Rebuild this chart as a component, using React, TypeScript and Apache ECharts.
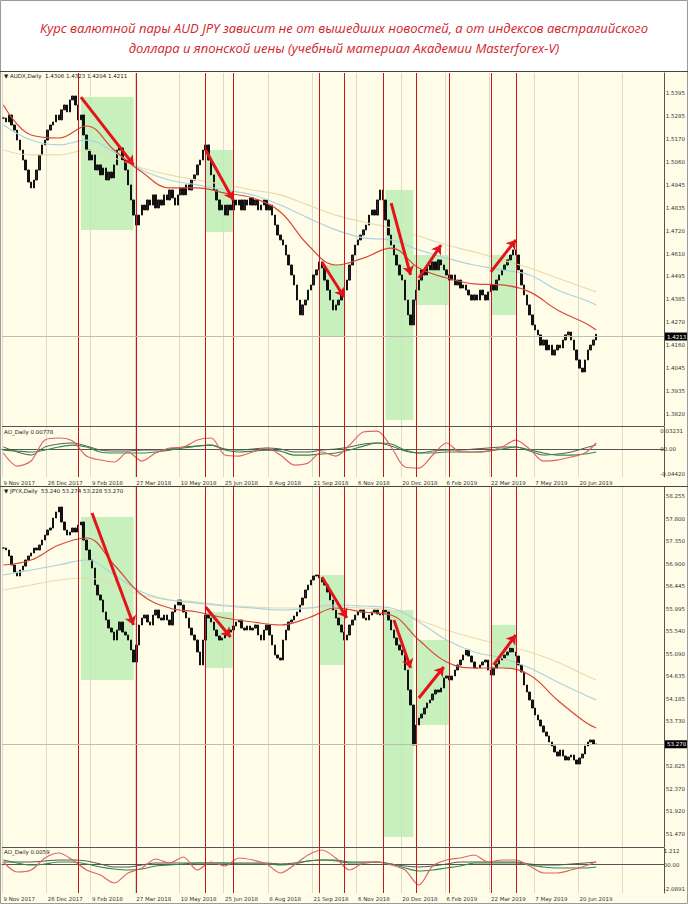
import { useEffect, useRef } from 'react';
import * as echarts from 'echarts';

const TITLE_LINES = [
  'Курс валютной пары AUD JPY зависит не от вышедших новостей, а от индексов австралийского',
  'доллара и японской иены (учебный материал Академии Masterforex-V)',
];
const DATE_LABELS = ['9 Nov 2017', '26 Dec 2017', '9 Feb 2018', '27 Mar 2018', '10 May 2018', '25 Jun 2018', '8 Aug 2018', '21 Sep 2018', '6 Nov 2018', '20 Dec 2018', '6 Feb 2019', '22 Mar 2019', '7 May 2019', '20 Jun 2019'];
const SLOT_COUNT = 239;
const LABEL_EVERY = 16;

// ---------- AUDX daily (closes, one per 2 trading days) ----------
const AUD_CLOSE = [
  1.5272, 1.5253, 1.5287, 1.5238, 1.5213, 1.5164, 1.5115, 1.5066, 1.5017, 1.4958,
  1.4929, 1.4968, 1.5017, 1.5091, 1.5140, 1.5164, 1.5213, 1.5238, 1.5253, 1.5287,
  1.5263, 1.5312, 1.5336, 1.5302, 1.5361, 1.5380, 1.5336, 1.5263, 1.5287, 1.5189,
  1.5115, 1.5066, 1.5091, 1.5017, 1.5042, 1.4993, 1.5027, 1.4968, 1.5007, 1.4978,
  1.5042, 1.5115, 1.5125, 1.5066, 1.5017, 1.4944, 1.4870, 1.4796, 1.4747, 1.4796,
  1.4845, 1.4821, 1.4870, 1.4845, 1.4895, 1.4831, 1.4870, 1.4845, 1.4895, 1.4870,
  1.4919, 1.4880, 1.4845, 1.4895, 1.4929, 1.4895, 1.4944, 1.4919, 1.4968, 1.4993,
  1.5042, 1.5066, 1.5115, 1.5140, 1.5066, 1.4993, 1.4919, 1.4870, 1.4821, 1.4845,
  1.4796, 1.4845, 1.4821, 1.4870, 1.4845, 1.4870, 1.4821, 1.4870, 1.4845, 1.4880,
  1.4845, 1.4870, 1.4821, 1.4845, 1.4870, 1.4821, 1.4845, 1.4796, 1.4747, 1.4698,
  1.4674, 1.4649, 1.4600, 1.4551, 1.4502, 1.4453, 1.4379, 1.4306, 1.4355, 1.4379,
  1.4428, 1.4453, 1.4502, 1.4527, 1.4566, 1.4536, 1.4477, 1.4428, 1.4379, 1.4330,
  1.4355, 1.4379, 1.4404, 1.4428, 1.4477, 1.4551, 1.4600, 1.4649, 1.4674, 1.4698,
  1.4723, 1.4747, 1.4796, 1.4821, 1.4796, 1.4870, 1.4919, 1.4870, 1.4772, 1.4698,
  1.4649, 1.4600, 1.4551, 1.4502, 1.4477, 1.4379, 1.4306, 1.4257, 1.4379, 1.4428,
  1.4477, 1.4527, 1.4502, 1.4551, 1.4527, 1.4566, 1.4527, 1.4576, 1.4551, 1.4527,
  1.4502, 1.4477, 1.4502, 1.4453, 1.4477, 1.4438, 1.4453, 1.4428, 1.4404, 1.4379,
  1.4404, 1.4379, 1.4428, 1.4404, 1.4379, 1.4419, 1.4453, 1.4428, 1.4477, 1.4502,
  1.4527, 1.4551, 1.4576, 1.4600, 1.4625, 1.4600, 1.4527, 1.4453, 1.4404, 1.4355,
  1.4306, 1.4257, 1.4232, 1.4208, 1.4158, 1.4183, 1.4134, 1.4158, 1.4109, 1.4134,
  1.4158, 1.4144, 1.4183, 1.4208, 1.4222, 1.4183, 1.4134, 1.4085, 1.4045, 1.4026,
  1.4085, 1.4134, 1.4158, 1.4183, 1.4211,
];
const AUD_LAST = 1.4213;
const AUD_TICKS = ['1.3820', '1.3935', '1.4045', '1.4160', '1.4270', '1.4385', '1.4495', '1.4610', '1.4720', '1.4835', '1.4945', '1.5060', '1.5170', '1.5285', '1.5395'];
const MA_SLOTS = [0, 10, 20, 30, 40, 50, 60, 70, 80, 90, 100, 110, 120, 130, 140, 150, 160, 170, 180, 190, 200, 210, 214];
const AUD_MA_FAST = [1.5336, 1.5189, 1.5174, 1.5233, 1.5115, 1.5007, 1.4929, 1.4929, 1.4904, 1.4880, 1.4811, 1.4649, 1.4551, 1.4585, 1.4634, 1.4536, 1.4487, 1.4458, 1.4453, 1.4419, 1.4330, 1.4266, 1.4232];
const AUD_MA_MID = [1.5238, 1.5164, 1.5140, 1.5164, 1.5105, 1.5017, 1.4968, 1.4944, 1.4919, 1.4895, 1.4845, 1.4782, 1.4723, 1.4684, 1.4674, 1.4625, 1.4585, 1.4551, 1.4527, 1.4502, 1.4428, 1.4379, 1.4355];
const AUD_MA_SLOW = [1.5115, 1.5091, 1.5091, 1.5115, 1.5076, 1.5027, 1.4993, 1.4968, 1.4944, 1.4919, 1.4895, 1.4845, 1.4796, 1.4762, 1.4733, 1.4693, 1.4649, 1.4615, 1.4576, 1.4536, 1.4487, 1.4438, 1.4419];

const OSC_SLOTS = [0, 5, 10, 15, 20, 25, 30, 35, 40, 45, 50, 55, 60, 65, 70, 75, 80, 85, 90, 95, 100, 105, 110, 115, 120, 125, 130, 135, 140, 145, 150, 155, 160, 165, 170, 175, 180, 185, 190, 195, 200, 205, 210, 214];
const AUD_OSC_FAST = [-0.0071, -0.0303, -0.0214, 0.0160, 0.0196, 0.0142, -0.0125, -0.0196, -0.0231, -0.0053, -0.0214, -0.0071, 0.0018, 0.0036, 0.0160, 0.0196, -0.0107, -0.0125, -0.0053, 0.0018, -0.0107, -0.0285, -0.0249, -0.0053, -0.0125, 0.0071, 0.0303, 0.0320, 0.0036, -0.0320, -0.0340, -0.0107, 0.0107, -0.0053, -0.0053, -0.0036, 0.0036, 0.0160, 0.0000, -0.0214, -0.0196, -0.0142, -0.0071, 0.0107];
const AUD_OSC_MID = [-0.0018, -0.0036, -0.0053, -0.0018, 0.0036, 0.0071, 0.0036, -0.0053, -0.0071, -0.0071, -0.0071, -0.0053, -0.0018, 0.0018, 0.0053, 0.0071, -0.0018, -0.0053, -0.0036, -0.0018, -0.0036, -0.0107, -0.0107, -0.0089, -0.0071, -0.0018, 0.0053, 0.0107, 0.0089, -0.0018, -0.0071, -0.0071, -0.0053, -0.0053, -0.0053, -0.0036, 0.0000, 0.0036, -0.0018, -0.0071, -0.0107, -0.0107, -0.0089, -0.0053];
const AUD_OSC_SLOW = [0.0036, -0.0053, -0.0107, 0.0036, 0.0089, 0.0107, 0.0053, -0.0018, -0.0036, -0.0036, -0.0018, -0.0018, 0.0000, 0.0036, 0.0053, 0.0071, 0.0000, -0.0018, 0.0000, 0.0018, 0.0000, -0.0053, -0.0053, -0.0018, 0.0000, 0.0036, 0.0089, 0.0107, 0.0053, -0.0036, -0.0071, -0.0036, -0.0018, -0.0018, 0.0000, 0.0018, 0.0036, 0.0036, -0.0036, -0.0107, -0.0089, -0.0053, 0.0018, 0.0071];
const AUD_OSC_TICKS = ['-0.04420', '00.00', '0.03231'];

// ---------- JPYX daily ----------
const JPY_CLOSE = [
  57.211, 57.171, 57.050, 56.870, 56.729, 56.649, 56.769, 56.849, 56.970, 57.050,
  57.110, 57.211, 57.171, 57.271, 57.371, 57.472, 57.572, 57.612, 57.813, 57.934,
  58.034, 57.733, 57.572, 57.472, 57.532, 57.612, 57.532, 57.673, 57.733, 57.371,
  57.171, 56.970, 56.809, 56.468, 56.267, 56.167, 55.926, 55.765, 55.604, 55.524,
  55.363, 55.564, 55.725, 55.524, 55.464, 55.363, 55.163, 54.922, 55.263, 55.665,
  55.805, 55.865, 55.725, 55.665, 55.865, 55.966, 55.805, 55.765, 55.865, 55.765,
  55.665, 55.926, 56.066, 56.167, 56.066, 55.926, 55.805, 55.604, 55.464, 55.363,
  55.123, 54.862, 55.363, 55.865, 55.805, 55.725, 55.564, 55.444, 55.363, 55.404,
  55.464, 55.524, 55.564, 55.645, 55.725, 55.765, 55.604, 55.564, 55.645, 55.564,
  55.604, 55.665, 55.464, 55.363, 55.564, 55.665, 55.464, 55.263, 55.062, 55.002,
  54.962, 55.363, 55.564, 55.725, 55.765, 55.845, 55.926, 56.066, 56.207, 56.368,
  56.468, 56.568, 56.649, 56.669, 56.609, 56.528, 56.468, 56.327, 56.167, 55.966,
  55.805, 55.665, 55.524, 55.363, 55.464, 55.665, 55.765, 55.865, 55.926, 55.966,
  55.805, 55.765, 55.865, 55.926, 55.966, 55.886, 55.865, 55.966, 55.926, 55.765,
  55.564, 55.404, 55.263, 55.163, 55.062, 54.761, 54.360, 54.058, 53.255, 53.657,
  53.797, 53.878, 53.998, 54.099, 54.159, 54.279, 54.360, 54.319, 54.400, 54.601,
  54.641, 54.560, 54.641, 54.761, 54.862, 54.962, 55.062, 55.163, 55.042, 54.922,
  54.801, 54.801, 54.862, 54.922, 54.962, 54.761, 54.661, 54.801, 54.882, 54.962,
  55.002, 55.062, 55.123, 55.203, 55.123, 55.042, 54.862, 54.721, 54.460, 54.319,
  54.159, 53.998, 53.858, 53.757, 53.637, 53.516, 53.436, 53.315, 53.235, 53.115,
  53.034, 53.155, 53.034, 52.954, 53.014, 53.054, 52.954, 52.874, 52.994, 53.074,
  53.235, 53.315, 53.356, 53.275, 53.270,
];
const JPY_LAST = 53.27;
const JPY_TICKS = ['51.470', '51.920', '52.370', '52.825', '', '53.730', '54.185', '54.635', '55.090', '55.540', '55.995', '56.445', '56.900', '57.350', '57.800', '58.255'];
const JPY_MA_FAST = [56.870, 56.970, 57.271, 57.412, 56.870, 56.267, 56.006, 55.926, 55.805, 55.725, 55.665, 55.805, 56.006, 55.926, 55.865, 55.363, 54.922, 54.801, 54.801, 54.661, 54.159, 53.717, 53.596];
const JPY_MA_MID = [56.669, 56.769, 56.870, 56.970, 56.669, 56.327, 56.167, 56.106, 56.046, 56.006, 55.966, 56.006, 56.066, 56.046, 56.006, 55.725, 55.363, 55.123, 55.002, 54.801, 54.520, 54.259, 54.159];
const JPY_MA_SLOW = [56.368, 56.468, 56.568, 56.609, 56.468, 56.267, 56.167, 56.127, 56.066, 56.026, 56.006, 56.006, 56.026, 56.006, 55.966, 55.765, 55.564, 55.404, 55.263, 55.123, 54.922, 54.661, 54.560];
const JPY_OSC_FAST = [0.174, -0.696, -0.522, 0.522, 0.957, 0.348, -0.522, -0.957, -1.653, -0.783, -0.348, 0.435, 0.087, 0.609, -0.522, 0.174, -0.174, 0.522, 0.348, 0.000, -0.783, -0.087, 0.783, 1.218, 0.522, -0.522, 0.087, 0.174, -0.087, -0.522, -1.827, -0.174, 0.348, 0.522, 0.783, 0.174, 0.348, 0.348, -0.174, -0.783, -0.783, -0.522, -0.174, 0.174];
const JPY_OSC_MID = [0.348, 0.087, -0.087, 0.000, 0.174, 0.174, 0.000, -0.261, -0.435, -0.522, -0.435, -0.174, -0.087, 0.000, 0.087, 0.087, 0.087, 0.000, 0.000, 0.000, -0.087, 0.000, 0.261, 0.348, 0.261, 0.087, 0.087, 0.174, 0.000, -0.348, -0.609, -0.522, -0.348, -0.174, 0.087, 0.087, 0.087, 0.087, -0.087, -0.261, -0.348, -0.348, -0.348, -0.261];
const JPY_OSC_SLOW = [0.174, 0.174, 0.174, 0.261, 0.348, 0.348, 0.261, 0.000, -0.261, -0.261, -0.087, 0.087, 0.087, 0.087, 0.087, 0.087, 0.087, 0.087, 0.087, 0.087, 0.000, 0.087, 0.261, 0.348, 0.348, 0.174, 0.174, 0.174, 0.000, -0.174, -0.261, -0.174, 0.000, 0.174, 0.174, 0.174, 0.174, 0.174, 0.000, -0.087, -0.087, 0.000, 0.087, 0.174];
const JPY_OSC_TICKS = ['-2.0891', '00.00', '1.212'];

// ---------- annotations (slot index, price) ----------
const RED_LINE_SLOTS = [27, 48, 73, 83, 114, 123, 137, 149, 161, 176, 185];
const AUD_BOXES = [
  [28, 1.5375, 47, 1.4723],
  [73, 1.5115, 83, 1.4713],
  [114, 1.4551, 123, 1.4198],
  [138, 1.4919, 148, 1.3790],
  [148, 1.4600, 161, 1.4355],
  [176, 1.4600, 185, 1.4306],
];
const AUD_ARROWS = [
  [28, 1.5375, 47, 1.5042],
  [73, 1.5115, 83, 1.4870],
  [115, 1.4566, 123, 1.4394],
  [140, 1.4855, 147, 1.4502],
  [150, 1.4487, 158, 1.4649],
  [176, 1.4517, 185, 1.4674],
];
const JPY_BOXES = [
  [28, 57.833, 47, 54.560],
  [73, 55.926, 83, 54.801],
  [114, 56.669, 123, 54.862],
  [137, 55.966, 148, 51.408],
  [149, 55.363, 161, 53.657],
  [176, 55.665, 185, 54.801],
];
const JPY_ARROWS = [
  [32, 57.914, 47, 55.665],
  [73, 56.026, 82, 55.424],
  [115, 56.629, 124, 55.805],
  [141, 55.765, 147, 54.801],
  [150, 54.199, 159, 54.821],
  [177, 54.862, 185, 55.464],
];

const CREAM = '#FFFDE8';
const BOX = '#BDEDB4';
const RED_V = '#C8141C';
const ARROW = '#E3131B';
const FONT = 'DejaVu Sans';

const categories = Array.from({ length: SLOT_COUNT }, (_, i) => String(i));

function candles(closes: number[]) {
  return closes.map((c, i) => {
    const o = i === 0 ? c : closes[i - 1];
    return [o, c, Math.min(o, c), Math.max(o, c)];
  });
}
function pairs(slots: number[], vals: number[]) {
  return slots.map((s, i) => [s, vals[i]]);
}

function buildOption() {
  const grids = [
    { left: 2, top: 73, width: 662, height: 353 },
    { left: 2, top: 427, width: 662, height: 50 },
    { left: 2, top: 487, width: 662, height: 360 },
    { left: 2, top: 848, width: 662, height: 45 },
    { left: 2, top: 93, width: 662, height: 321 },
    { left: 2, top: 431, width: 662, height: 43 },
    { left: 2, top: 496, width: 662, height: 338 },
    { left: 2, top: 851, width: 662, height: 38 },
  ];
  const dataX = (gi: number, dates: boolean) => ({
    gridIndex: gi,
    type: 'category',
    data: categories,
    boundaryGap: true,
    axisLine: { show: dates, lineStyle: { color: '#555', width: 1 } },
    axisTick: { show: false },
    splitLine: { show: true, interval: LABEL_EVERY - 1, lineStyle: { color: '#DCDAC8', width: 1 } },
    axisLabel: {
      show: dates,
      interval: LABEL_EVERY - 1,
      align: 'left',
      margin: 3,
      fontSize: 5.5,
      fontFamily: FONT,
      color: '#333',
      formatter: (_v: string, idx: number) => (idx % LABEL_EVERY === 0 ? DATE_LABELS[idx / LABEL_EVERY] ?? '' : ''),
    },
  });
  const labelX = (gi: number) => ({ gridIndex: gi, type: 'value', show: false, min: 0, max: 1 });
  const dataY = (gi: number, min: number, max: number) => ({
    gridIndex: gi, type: 'value', position: 'right', min, max,
    axisLine: { show: true, lineStyle: { color: '#555', width: 1 } },
    axisTick: { show: false }, axisLabel: { show: false }, splitLine: { show: false },
  });
  const labelY = (gi: number, ticks: string[], min: number, max: number, interval: number) => ({
    gridIndex: gi, type: 'value', position: 'right', min, max, interval,
    axisLine: { show: false }, axisTick: { show: false }, splitLine: { show: false },
    axisLabel: { show: true, margin: 3, fontSize: 5.5, fontFamily: FONT, color: '#333', formatter: (_v: number, idx: number) => ticks[idx] ?? '' },
  });

  const series: any[] = [];
  const addPanel = (
    mainIdx: number, oscIdx: number, closes: number[], last: number, lastLabel: string,
    maFast: number[], maMid: number[], maSlow: number[],
    oFast: number[], oMid: number[], oSlow: number[],
    boxes: number[][], arrows: number[][],
  ) => {
    series.push({
      type: 'line', xAxisIndex: mainIdx, yAxisIndex: mainIdx, data: [], silent: true, z: 1,
      markArea: {
        silent: true, itemStyle: { color: BOX, opacity: 0.85, borderWidth: 0 },
        data: boxes.map((b) => [{ xAxis: b[0], yAxis: b[1] }, { xAxis: b[2], yAxis: b[3] }]),
      },
    });
    series.push({
      type: 'line', xAxisIndex: mainIdx, yAxisIndex: mainIdx, data: [], silent: true, z: 2,
      markLine: {
        silent: true, symbol: 'none', label: { show: false },
        lineStyle: { color: RED_V, width: 1, type: 'solid', opacity: 1 },
        emphasis: { disabled: true },
        data: RED_LINE_SLOTS.map((s) => ({ xAxis: s, lineStyle: { color: RED_V } })),
      },
    });
    series.push({
      type: 'candlestick', xAxisIndex: mainIdx, yAxisIndex: mainIdx, data: candles(closes), barWidth: 2, z: 3, silent: true,
      itemStyle: { color: '#2A2A2A', color0: '#111', borderColor: '#111', borderColor0: '#111', borderWidth: 1 },
      markLine: {
        silent: true, symbol: 'none',
        lineStyle: { color: '#BDBDB0', width: 1, type: 'solid' },
        label: { show: true, position: 'end', distance: 1, formatter: lastLabel, backgroundColor: '#000', color: '#fff', fontSize: 5.5, fontFamily: FONT, padding: [1, 2] },
        data: [{ yAxis: last }],
      },
    });
    const ma = (vals: number[], color: string, w: number) => ({
      type: 'line', xAxisIndex: mainIdx, yAxisIndex: mainIdx, data: pairs(MA_SLOTS, vals), showSymbol: false, smooth: 0.4, silent: true, z: 4,
      lineStyle: { color, width: w },
    });
    series.push(ma(maSlow, '#E4DDB0', 1.2));
    series.push(ma(maMid, '#A9D3E0', 1.2));
    series.push(ma(maFast, '#D9473C', 1.2));
    series.push({
      type: 'line', xAxisIndex: mainIdx, yAxisIndex: mainIdx, data: [], silent: true, z: 6,
      markLine: {
        silent: true, symbol: ['none', 'arrow'], symbolSize: 9, label: { show: false },
        lineStyle: { color: ARROW, width: 3, type: 'solid' },
        data: arrows.map((a) => [{ coord: [a[0], a[1]] }, { coord: [a[2], a[3]] }]),
      },
    });
    // oscillator
    series.push({
      type: 'line', xAxisIndex: oscIdx, yAxisIndex: oscIdx, data: [], silent: true, z: 1,
      markLine: {
        silent: true, symbol: 'none', label: { show: false },
        lineStyle: { color: RED_V, width: 1, type: 'solid' },
        data: RED_LINE_SLOTS.map((s) => ({ xAxis: s })),
      },
    });
    const osc = (vals: number[], color: string, w: number) => ({
      type: 'line', xAxisIndex: oscIdx, yAxisIndex: oscIdx, data: pairs(OSC_SLOTS, vals), showSymbol: false, smooth: 0.3, silent: true, z: 4,
      lineStyle: { color, width: w },
    });
    series.push(osc(oSlow, '#555', 1));
    series.push(osc(oMid, '#2E8B4A', 1.2));
    series.push(osc(oFast, '#E06464', 1.2));
  };

  addPanel(0, 1, AUD_CLOSE, AUD_LAST, '1.4213', AUD_MA_FAST, AUD_MA_MID, AUD_MA_SLOW, AUD_OSC_FAST, AUD_OSC_MID, AUD_OSC_SLOW, AUD_BOXES, AUD_ARROWS);
  addPanel(2, 3, JPY_CLOSE, JPY_LAST, '53.270', JPY_MA_FAST, JPY_MA_MID, JPY_MA_SLOW, JPY_OSC_FAST, JPY_OSC_MID, JPY_OSC_SLOW, JPY_BOXES, JPY_ARROWS);

  const hline = (y: number, x1: number, x2: number, color = '#555') => ({
    type: 'line', silent: true, z: 50, shape: { x1, y1: y, x2, y2: y }, style: { stroke: color, lineWidth: 1 },
  });
  const small = (text: string, x: number, y: number) => ({
    type: 'text', silent: true, z: 60, x, y,
    style: { text, fontSize: 5.5, fontFamily: FONT, fill: '#222', textVerticalAlign: 'middle' },
  });

  return {
    animation: false,
    backgroundColor: CREAM,
    grid: grids,
    xAxis: [dataX(0, false), dataX(1, true), dataX(2, false), dataX(3, true), labelX(4), labelX(5), labelX(6), labelX(7)],
    yAxis: [
      dataY(0, 1.3761, 1.5493),
      dataY(1, -0.0498, 0.0392),
      dataY(2, 51.207, 58.436),
      dataY(3, -2.523, 1.392),
      labelY(4, AUD_TICKS, 1.382, 1.5395, 0.01125),
      labelY(5, AUD_OSC_TICKS, -0.0442, 0.03231, 0.0442),
      labelY(6, JPY_TICKS, 51.47, 58.255, 0.4523333333),
      labelY(7, JPY_OSC_TICKS, -2.0891, 1.212, 2.0891),
    ],
    series,
    graphic: [
      { type: 'rect', silent: true, z: 40, shape: { x: 0, y: 0, width: 688, height: 71 }, style: { fill: '#fff' } },
      { type: 'rect', silent: true, z: 41, shape: { x: 0.5, y: 0.5, width: 687, height: 903 }, style: { fill: 'none', stroke: '#9A9A9A', lineWidth: 1 } },
      {
        type: 'text', silent: true, z: 42, x: 344, y: 28,
        style: { text: TITLE_LINES[0], fontSize: 13, fontStyle: 'italic', fontFamily: 'Open Sans', fill: '#D2232A', textAlign: 'center', textVerticalAlign: 'middle' },
      },
      {
        type: 'text', silent: true, z: 42, x: 344, y: 48,
        style: { text: TITLE_LINES[1], fontSize: 13, fontStyle: 'italic', fontFamily: 'Open Sans', fill: '#D2232A', textAlign: 'center', textVerticalAlign: 'middle' },
      },
      hline(71.5, 0, 688, '#444'),
      hline(426.5, 2, 664),
      hline(486.5, 0, 688, '#444'),
      hline(847.5, 2, 664),
      small('▼ AUDX,Daily  1.4306 1.4323 1.4204 1.4211', 4, 76),
      small('AO_Daily 0.00778', 4, 432),
      small('▼ JPYX,Daily  53.240 53.274 53.228 53.270', 4, 491),
      small('AO_Daily 0.0059', 4, 852),
    ],
  };
}

export default function App() {
  const ref = useRef<HTMLDivElement>(null);
  useEffect(() => {
    if (!ref.current) return;
    const chart = echarts.init(ref.current, null, { renderer: 'svg' });
    chart.setOption(buildOption() as any);
    return () => chart.dispose();
  }, []);
  return <div ref={ref} style={{ position: 'absolute', left: 0, top: 0, width: 688, height: 904 }} />;
}
